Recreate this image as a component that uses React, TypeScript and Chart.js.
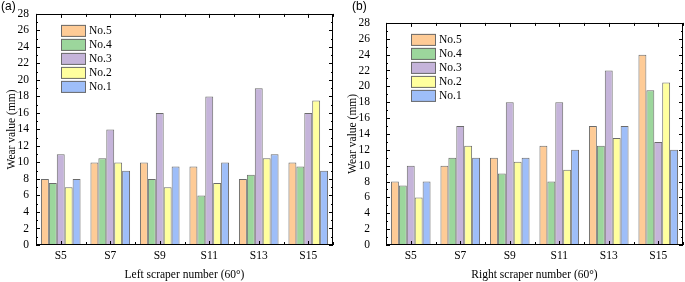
import React, { useEffect, useRef } from "react";
import { Chart, registerables } from "chart.js";
Chart.register(...registerables);

const categories = ["S5", "S7", "S9", "S11", "S13", "S15"];
const seriesNames = ["No.5", "No.4", "No.3", "No.2", "No.1"];
const seriesColors = ["#FECB96", "#9CD69C", "#C5B4DA", "#FFFF9E", "#9EBEF9"];

const leftNo5 = [8, 10, 10, 9.5, 8, 10];
const leftNo4 = [7.5, 10.5, 8, 6, 8.5, 9.5];
const leftNo3 = [11, 14, 16, 18, 19, 16];
const leftNo2 = [7, 10, 7, 7.5, 10.5, 17.5];
const leftNo1 = [8, 9, 9.5, 10, 11, 9];

const rightNo5 = [8, 10, 11, 12.5, 15, 24];
const rightNo4 = [7.5, 11, 9, 8, 12.5, 19.5];
const rightNo3 = [10, 15, 18, 18, 22, 13];
const rightNo2 = [6, 12.5, 10.5, 9.5, 13.5, 20.5];
const rightNo1 = [8, 11, 11, 12, 15, 12];

const yMin = 0;
const yMax = 28;
const yStep = 2;

const SERIF = "'Liberation Serif', 'Times New Roman', serif";
const SANS = "'Liberation Sans', Arial, sans-serif";
const FS = 11.5;

const framePlugin = {
  id: "frameTicks",
  afterDraw(chart: any) {
    const { ctx, chartArea: a, scales } = chart;
    const xs = scales.x;
    const ys = scales.y;
    ctx.save();
    ctx.strokeStyle = "#000";
    ctx.lineWidth = 1;
    ctx.beginPath();
    for (let v = yMin; v <= yMax; v += yStep / 2) {
      const py = Math.round(ys.getPixelForValue(v)) + 0.5;
      const len = Math.abs(v % yStep) < 1e-9 ? 4 : 2;
      ctx.moveTo(a.left, py);
      ctx.lineTo(a.left + len, py);
      ctx.moveTo(a.right, py);
      ctx.lineTo(a.right - len, py);
    }
    const n = categories.length;
    for (let i = 0; i < n; i++) {
      const px = Math.round(xs.getPixelForValue(i)) + 0.5;
      ctx.moveTo(px, a.bottom);
      ctx.lineTo(px, a.bottom - 4);
      ctx.moveTo(px, a.top);
      ctx.lineTo(px, a.top + 4);
    }
    for (let i = 0; i <= n; i++) {
      const px = Math.round(xs.getPixelForValue(i - 0.5)) + 0.5;
      ctx.moveTo(px, a.bottom);
      ctx.lineTo(px, a.bottom - 3);
      ctx.moveTo(px, a.top);
      ctx.lineTo(px, a.top + 3);
    }
    ctx.stroke();
    ctx.strokeRect(
      Math.round(a.left) + 0.5,
      Math.round(a.top) + 0.5,
      Math.round(a.right) - Math.round(a.left) - 1,
      Math.round(a.bottom) - Math.round(a.top) - 1
    );
    ctx.restore();
  },
};

const legendPlugin = {
  id: "innerLegend",
  afterDraw(chart: any, _args: any, opts: any) {
    const { ctx, chartArea: a } = chart;
    ctx.save();
    const bx = a.left + 25;
    let by = a.top + 11;
    ctx.font = `${FS}px ${SERIF}`;
    ctx.textBaseline = "middle";
    ctx.textAlign = "left";
    chart.data.datasets.forEach((ds: any) => {
      ctx.fillStyle = ds.backgroundColor;
      ctx.fillRect(bx, by, 25, 12);
      ctx.strokeStyle = "#6b6b6b";
      ctx.lineWidth = 1;
      ctx.strokeRect(bx + 0.5, by + 0.5, 24, 11);
      ctx.fillStyle = "#000";
      ctx.fillText(ds.label, bx + 28, by + 6.5);
      by += 14;
    });
    ctx.font = `12px ${SANS}`;
    ctx.fillText(opts.panel, opts.panelX, 7);
    ctx.restore();
  },
};

function Panel(props: {
  width: number;
  plotLeft: number;
  padRight: number;
  tickPad: number;
  titlePad: number;
  panel: string;
  panelX: number;
  xTitle: string;
  series: number[][];
}) {
  const ref = useRef<HTMLCanvasElement>(null);
  useEffect(() => {
    const canvas = ref.current!;
    const chart = new Chart(canvas, {
      type: "bar",
      data: {
        labels: categories,
        datasets: props.series.map((d, i) => ({
          label: seriesNames[i],
          data: d,
          backgroundColor: seriesColors[i],
          borderColor: "#6b6b6b",
          borderWidth: 1,
          categoryPercentage: 0.8,
          barPercentage: 1,
        })),
      },
      options: {
        animation: false,
        responsive: false,
        maintainAspectRatio: false,
        devicePixelRatio: 1,
        layout: { padding: { top: 6, right: props.padRight, left: 0, bottom: 0 } },
        plugins: {
          legend: { display: false },
          tooltip: { enabled: false },
          innerLegend: { panel: props.panel, panelX: props.panelX },
        } as any,
        scales: {
          x: {
            type: "category",
            offset: true,
            grid: { display: false, drawTicks: false },
            border: { display: false },
            ticks: { color: "#000", font: { family: SERIF, size: FS }, padding: 4, maxRotation: 0, autoSkip: false },
            title: {
              display: true,
              text: props.xTitle,
              color: "#000",
              font: { family: SERIF, size: FS },
              padding: { top: 0, bottom: 0 },
            },
            afterFit: (s: any) => {
              s.height = 37;
            },
          },
          y: {
            min: yMin,
            max: yMax,
            grid: { display: false, drawTicks: false },
            border: { display: false },
            ticks: {
              stepSize: yStep,
              autoSkip: false,
              color: "#000",
              font: { family: SERIF, size: FS },
              padding: props.tickPad,
            },
            title: {
              display: true,
              text: "Wear value (mm)",
              color: "#000",
              font: { family: SERIF, size: FS },
              padding: { top: props.titlePad, bottom: 0 },
            },
            afterFit: (s: any) => {
              s.width = props.plotLeft;
            },
          },
        },
      } as any,
      plugins: [framePlugin, legendPlugin],
    });
    return () => chart.destroy();
  }, []);
  return <canvas ref={ref} width={props.width} height={282} style={{ display: "block", width: props.width, height: 282 }} />;
}

export default function App() {
  return (
    <div style={{ position: "fixed", left: 0, top: 0, display: "flex", background: "#fff", width: 685, height: 282 }}>
      <Panel
        width={340}
        plotLeft={36}
        padRight={7}
        tickPad={7}
        titlePad={5}
        panel="(a)"
        panelX={1}
        xTitle="Left scraper number (60°)"
        series={[leftNo5, leftNo4, leftNo3, leftNo2, leftNo1]}
      />
      <Panel
        width={345}
        plotLeft={46}
        padRight={2}
        tickPad={16}
        titlePad={6}
        panel="(b)"
        panelX={12}
        xTitle="Right scraper number (60°)"
        series={[rightNo5, rightNo4, rightNo3, rightNo2, rightNo1]}
      />
    </div>
  );
}
